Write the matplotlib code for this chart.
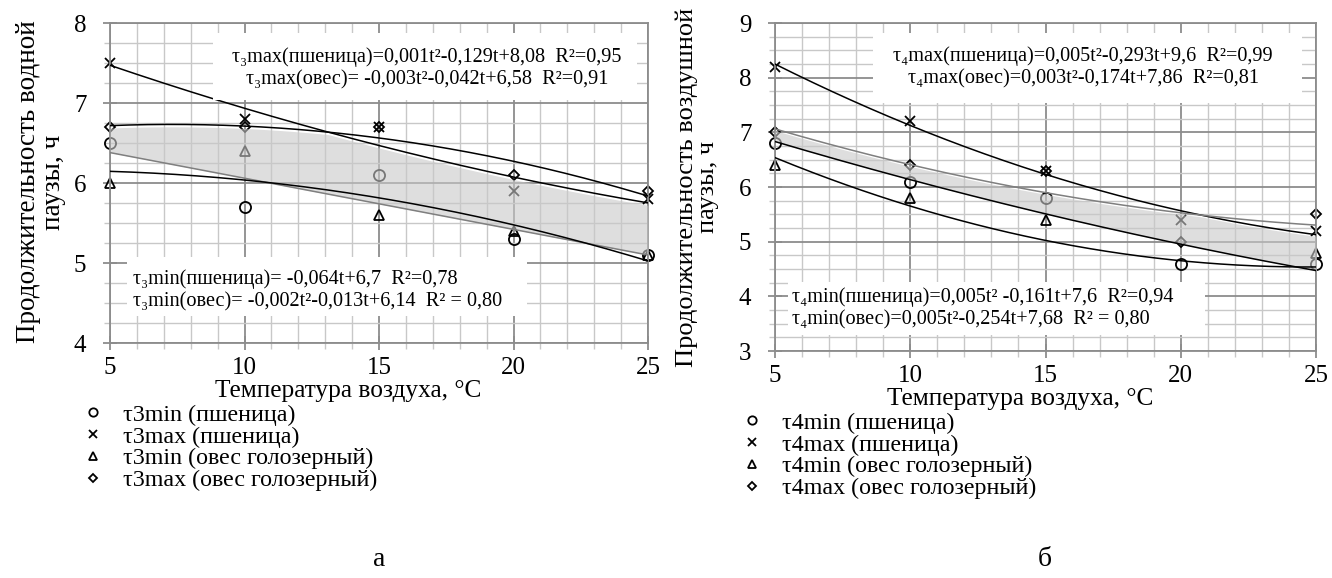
import numpy as np
import matplotlib
matplotlib.use('Agg')
import matplotlib.pyplot as plt
from matplotlib.patches import Rectangle
from matplotlib.lines import Line2D

plt.rcParams['font.family'] = ['Liberation Serif', 'DejaVu Serif']

# температура воздуха, °C
t = np.array([5, 10, 15, 20, 25])

# а) водная пауза, ч
t3min_wheat = [6.5, 5.7, 6.1, 5.3, 5.1]
t3max_wheat = [7.5, 6.8, 6.7, 5.9, 5.8]
t3min_oat = [6.0, 6.4, 5.6, 5.4, 5.1]
t3max_oat = [6.7, 6.7, 6.7, 6.1, 5.9]

# б) воздушная пауза, ч
t4min_wheat = [6.8, 6.1, 5.8, 4.6, 4.6]
t4max_wheat = [8.2, 7.2, 6.3, 5.4, 5.2]
t4min_oat = [6.4, 5.8, 5.4, 4.0, 4.8]
t4max_oat = [7.0, 6.4, 6.3, 5.0, 5.5]

eq3_top = ['τ₃max(пшеница)=0,001t²-0,129t+8,08  R²=0,95',
           'τ₃max(овес)= -0,003t²-0,042t+6,58  R²=0,91']
eq3_bot = ['τ₃min(пшеница)= -0,064t+6,7  R²=0,78',
           'τ₃min(овес)= -0,002t²-0,013t+6,14  R² = 0,80']
eq4_top = ['τ₄max(пшеница)=0,005t²-0,293t+9,6  R²=0,99',
           'τ₄max(овес)=0,003t²-0,174t+7,86  R²=0,81']
eq4_bot = ['τ₄min(пшеница)=0,005t² -0,161t+7,6  R²=0,94',
           'τ₄min(овес)=0,005t²-0,254t+7,68  R² = 0,80']

W, H = 1332, 578
fig = plt.figure(figsize=(W / 100, H / 100), dpi=100)


def px_axes(x0, x1, y0, y1):
    # прямоугольник осей по пикселям картинки
    return fig.add_axes([x0 / W, 1 - y1 / H, (x1 - x0) / W, (y1 - y0) / H])


ax1 = px_axes(110, 648, 23, 343)
ax2 = px_axes(775, 1316, 23, 351)

tt = np.linspace(5, 25, 200)


def trend(y, deg=2):
    return np.polyval(np.polyfit(t, y, deg), tt)


def setup(ax, ymin, ymax):
    ax.set_xlim(5, 25)
    ax.set_ylim(ymin, ymax)
    ax.set_xticks([5, 10, 15, 20, 25])
    ax.set_xticks(np.arange(5, 26, 1), minor=True)
    ax.set_yticks(np.arange(ymin, ymax + 1, 1))
    ax.set_yticks(np.arange(ymin, ymax + 0.01, 0.25), minor=True)
    ax.grid(which='major', color='#8c8c8c', lw=1.3, zorder=0)
    ax.grid(which='minor', color='#c8c8c8', lw=1.0, zorder=0)
    ax.set_axisbelow(True)
    for s in ax.spines.values():
        s.set_color('#8c8c8c')
        s.set_linewidth(1.3)
    ax.tick_params(which='major', direction='inout', length=10, width=1.3,
                   color='#8c8c8c', labelsize=18)
    ax.tick_params(axis='x', which='major', pad=5)
    ax.tick_params(axis='y', which='major', pad=12)
    ax.tick_params(which='minor', direction='out', length=4, width=1.0,
                   color='#c8c8c8')


def draw(ax, mn_w, mx_w, mn_o, mx_o, lin_min, grey_line):
    kw = dict(ls='none', mec='black', mew=1.3, zorder=2, clip_on=False)
    ax.plot(t, mn_w, marker='o', ms=8, mfc='none', **kw)
    ax.plot(t, mx_w, marker='x', ms=7.5, **kw)
    ax.plot(t, mn_o, marker='^', ms=7.5, mfc='none', **kw)
    ax.plot(t, mx_o, marker='D', ms=5.5, mfc='none', **kw)
    f_mn_w = trend(mn_w, 1 if lin_min else 2)
    f_mx_w = trend(mx_w)
    f_mn_o = trend(mn_o)
    f_mx_o = trend(mx_o)
    ax.fill_between(tt, f_mn_w, np.minimum(f_mx_w, f_mx_o) - 0.03,
                    color='#c8c8c8', alpha=0.6, lw=0, zorder=3)
    fits = [f_mn_w, f_mx_w, f_mn_o, f_mx_o]
    for i, f in enumerate(fits):
        c = '#7f7f7f' if i == grey_line else 'black'
        ax.plot(tt, f, color=c, lw=1.1, zorder=4)


def eqbox(ax, box, lines, x, ys, ha):
    # box и координаты текста в пикселях картинки
    inv = ax.transAxes.inverted()
    (bx0, by0), (bx1, by1) = inv.transform([(box[0], H - box[3]), (box[1], H - box[2])])
    ax.add_patch(Rectangle((bx0, by0), bx1 - bx0, by1 - by0, transform=ax.transAxes,
                           facecolor='white', edgecolor='none', zorder=5, clip_on=False))
    for line, y in zip(lines, ys):
        ax.text(x / W, 1 - y / H, line, transform=fig.transFigure, ha=ha,
                va='center', fontsize=14.6, zorder=6)


setup(ax1, 4, 8)
draw(ax1, t3min_wheat, t3max_wheat, t3min_oat, t3max_oat, True, 0)
eqbox(ax1, (213, 637, 33, 100), eq3_top, 427, [57, 80], 'center')
eqbox(ax1, (127, 527, 257, 316), eq3_bot, 133, [279, 302], 'left')

setup(ax2, 3, 9)
draw(ax2, t4min_wheat, t4max_wheat, t4min_oat, t4max_oat, False, 3)
eqbox(ax2, (873, 1302, 33, 103), eq4_top, 1083, [56, 79], 'center')
eqbox(ax2, (788, 1205, 282, 335), eq4_bot, 792, [297, 320], 'left')

fig.text(41 / W, 1 - 182 / H, 'Продолжительность водной\nпаузы, ч', rotation=90,
         ha='center', va='center', fontsize=19.5, linespacing=0.95)
fig.text(697 / W, 1 - 187 / H, 'Продолжительность воздушной\nпаузы, ч', rotation=90,
         ha='center', va='center', fontsize=19, linespacing=0.95)
fig.text(348 / W, 1 - 391 / H, 'Температура воздуха, °C', ha='center', va='center',
         fontsize=18.3)
fig.text(1020 / W, 1 - 399 / H, 'Температура воздуха, °C', ha='center', va='center',
         fontsize=18.3)


# легенды под графиками
def legend(ax, n, x0, ytop):
    labels = ['τ%dmin (пшеница)' % n, 'τ%dmax (пшеница)' % n,
              'τ%dmin (овес голозерный)' % n, 'τ%dmax (овес голозерный)' % n]
    kw = dict(ls='none', mfc='none', mec='black', mew=1.3)
    handles = [Line2D([], [], marker='o', ms=6, **kw),
               Line2D([], [], marker='x', ms=6, **kw),
               Line2D([], [], marker='^', ms=5.5, **kw),
               Line2D([], [], marker='D', ms=4.5, **kw)]
    ax.legend(handles, labels, loc='upper left', bbox_to_anchor=(x0 / W, 1 - ytop / H),
              bbox_transform=fig.transFigure, frameon=False,
              prop={'family': 'Liberation Serif', 'size': 17.3},
              handlelength=0.9, handletextpad=0.8, labelspacing=0.0,
              borderpad=0, borderaxespad=0)


legend(ax1, 3, 82, 404)
legend(ax2, 4, 741, 412)

fig.text(379 / W, 0.02, 'а', ha='center', va='baseline', fontsize=20)
fig.text(1045 / W, 0.02, 'б', ha='center', va='baseline', fontsize=20)

fig.savefig('out.png', dpi=100)
